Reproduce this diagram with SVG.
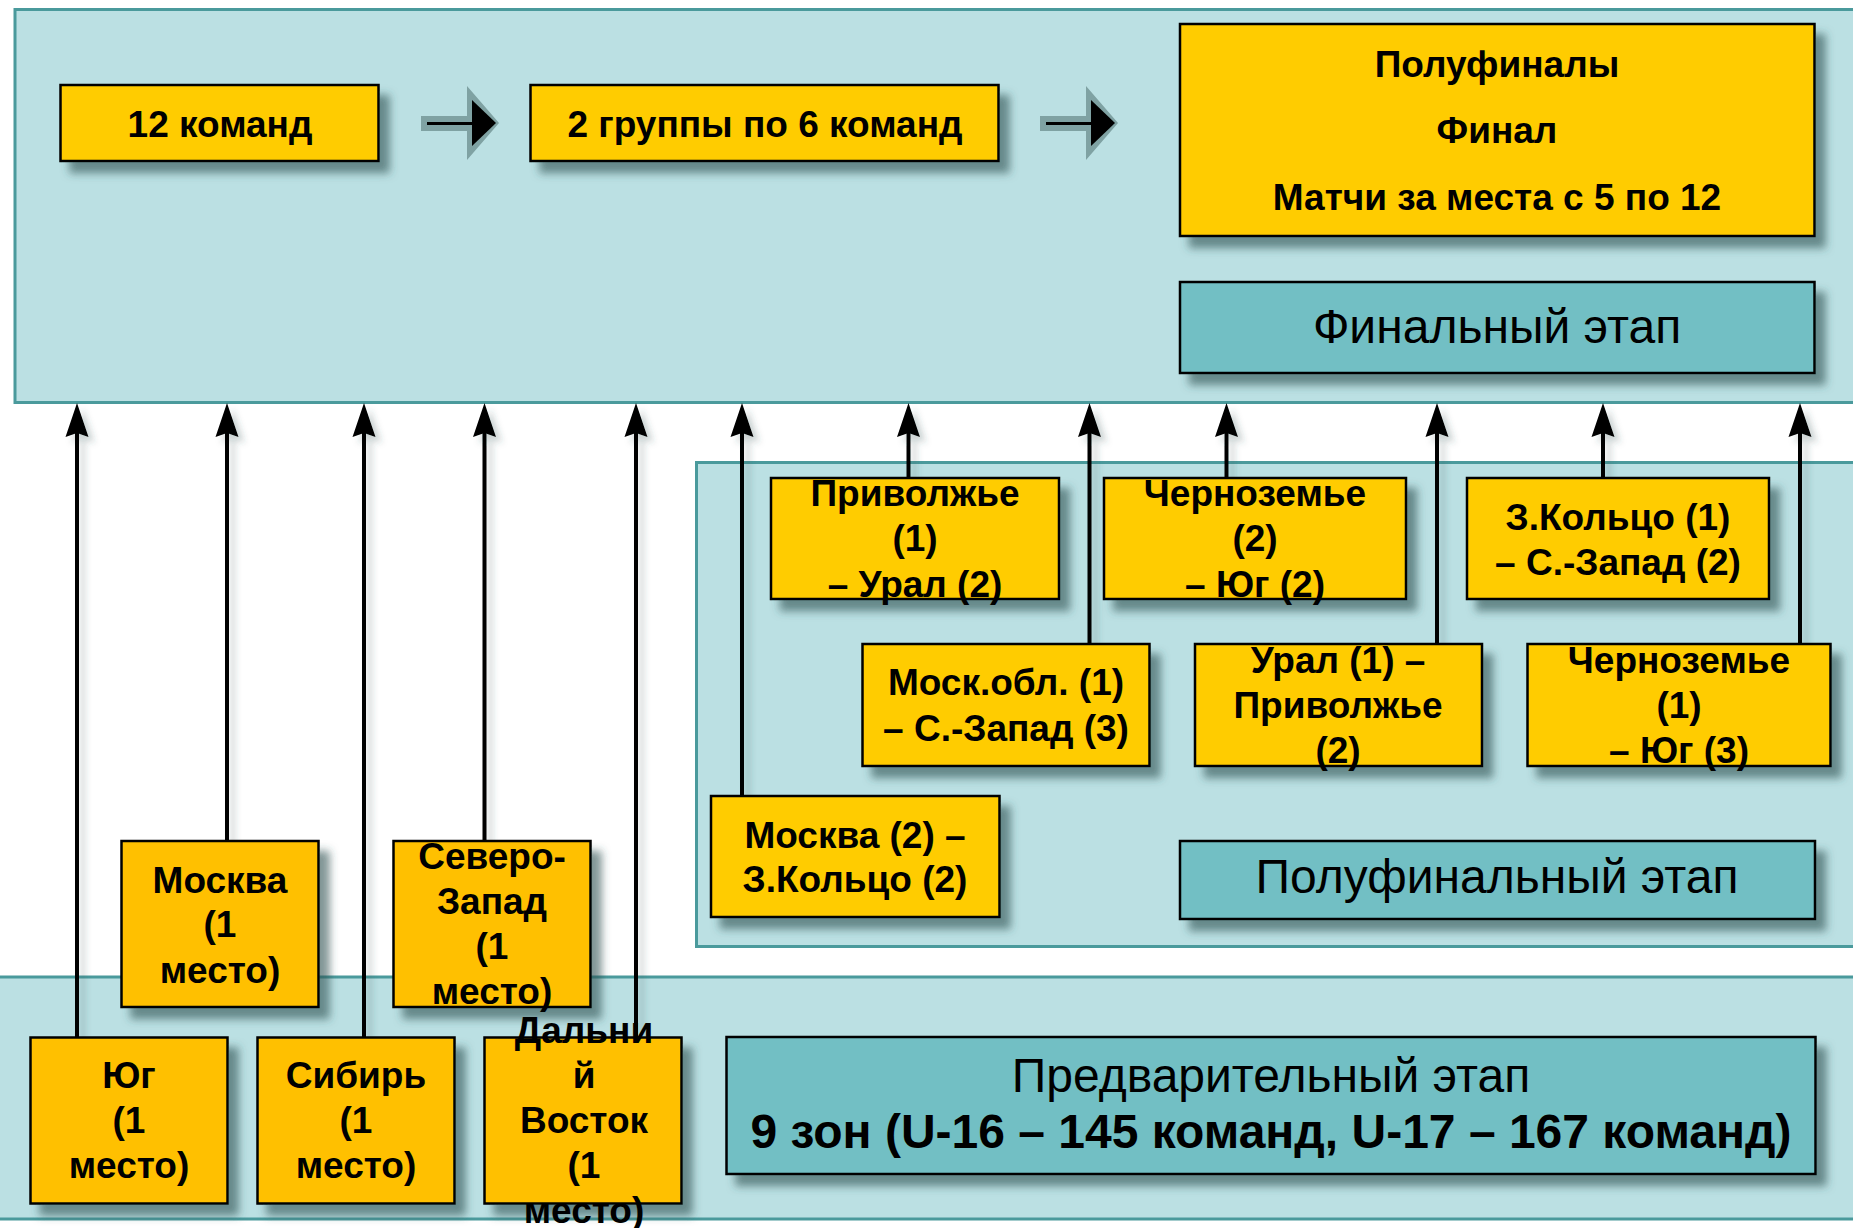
<svg xmlns="http://www.w3.org/2000/svg" width="1853" height="1228" viewBox="0 0 1853 1228">
<defs>
<filter id="sh" x="-10%" y="-10%" width="130%" height="140%">
<feDropShadow dx="10" dy="11" stdDeviation="4" flood-color="#2f4f50" flood-opacity="0.6"/>
</filter>
<filter id="lsh" x="-50%" y="-5%" width="400%" height="110%">
<feDropShadow dx="6" dy="6" stdDeviation="3" flood-color="#2f4f50" flood-opacity="0.25"/>
</filter>
<marker id="ah" markerUnits="userSpaceOnUse" markerWidth="40" markerHeight="30" viewBox="-5 -13 40 26" refX="0" refY="0" orient="auto">
<path d="M30,0 L-4,-11.5 L0,0 L-4,11.5 Z" fill="#000"/>
</marker>
<g id="blockArrow">
<polygon points="421,116 467,116 467,86 499,123 467,160 467,131 421,131" fill="#7fa2a3"/>
<line x1="427" y1="123.5" x2="474" y2="123.5" stroke="#000" stroke-width="3"/>
<polygon points="472,100 496,123 472,146" fill="#000"/>
</g>
</defs>
<style>
.panel{fill:#bbe0e3;stroke:#4a9a9c;stroke-width:3}
.box{fill:#ffcc00;stroke:#000;stroke-width:2.5;filter:url(#sh)}
.boxo{fill:#ffc000;stroke:#000;stroke-width:2.5;filter:url(#sh)}
.stage{fill:#72bfc4;stroke:#000;stroke-width:2.5;filter:url(#sh)}
.t{font-family:"Liberation Sans",Arial,sans-serif;font-weight:700;font-size:37px;fill:#000;text-anchor:middle}
.tr{font-family:"Liberation Sans",Arial,sans-serif;font-weight:400;font-size:48px;fill:#000;text-anchor:middle}
.tb{font-family:"Liberation Sans",Arial,sans-serif;font-weight:700;font-size:48px;fill:#000;text-anchor:middle}
.c line{stroke:#000;stroke-width:4;marker-end:url(#ah)}
</style>
<rect x="0" y="0" width="1853" height="1228" fill="#fff"/>
<g id="panels">
<rect class="panel" x="15" y="9.5" width="1850" height="393"/>
<rect class="panel" x="696.5" y="462.5" width="1170" height="484"/>
<rect class="panel" x="-5" y="977" width="1870" height="242"/>
</g>
<g id="flow-arrows">
<use href="#blockArrow"/>
<use href="#blockArrow" transform="translate(619,0)"/>
</g>
<g id="connectors" class="c" filter="url(#lsh)">
<line x1="77" y1="1037" x2="77" y2="433"/>
<line x1="227" y1="841" x2="227" y2="433"/>
<line x1="364" y1="1037" x2="364" y2="433"/>
<line x1="484.5" y1="841" x2="484.5" y2="433"/>
<line x1="636" y1="1037" x2="636" y2="433"/>
<line x1="742" y1="796" x2="742" y2="433"/>
<line x1="908.5" y1="478" x2="908.5" y2="433"/>
<line x1="1089.5" y1="644" x2="1089.5" y2="433"/>
<line x1="1226.5" y1="478" x2="1226.5" y2="433"/>
<line x1="1437" y1="644" x2="1437" y2="433"/>
<line x1="1603" y1="478" x2="1603" y2="433"/>
<line x1="1800" y1="644" x2="1800" y2="433"/>
</g>
<g id="n-12">
<rect class="box" x="60.5" y="85" width="318" height="76"/>
<text class="t" x="220" y="137">12 команд</text>
</g>
<g id="n-groups">
<rect class="box" x="530.5" y="85" width="468" height="76"/>
<text class="t" x="765" y="137">2 группы по 6 команд</text>
</g>
<g id="n-finals">
<rect class="box" x="1180" y="24" width="634.5" height="212"/>
<text class="t" x="1497" y="77">Полуфиналы</text>
<text class="t" x="1497" y="143">Финал</text>
<text class="t" x="1497" y="210">Матчи за места с 5 по 12</text>
</g>
<g id="n-final-stage">
<rect class="stage" x="1180" y="282" width="634.5" height="91"/>
<text class="tr" x="1497" y="343">Финальный этап</text>
</g>
<g id="n-privolzhye-ural">
<rect class="box" x="771" y="478" width="288" height="121"/>
<text class="t" x="915" y="506">Приволжье</text>
<text class="t" x="915" y="551">(1)</text>
<text class="t" x="915" y="597">– Урал (2)</text>
</g>
<g id="n-chernozem-yug2">
<rect class="box" x="1104" y="478" width="302" height="121"/>
<text class="t" x="1255" y="506">Черноземье</text>
<text class="t" x="1255" y="551">(2)</text>
<text class="t" x="1255" y="597">– Юг (2)</text>
</g>
<g id="n-zkoltso-szapad">
<rect class="box" x="1467" y="478" width="302" height="121"/>
<text class="t" x="1618" y="530">З.Кольцо (1)</text>
<text class="t" x="1618" y="575">– С.-Запад (2)</text>
</g>
<g id="n-moskobl-szapad">
<rect class="box" x="862.5" y="644" width="287" height="122"/>
<text class="t" x="1006" y="695">Моск.обл. (1)</text>
<text class="t" x="1006" y="741">– С.-Запад (3)</text>
</g>
<g id="n-ural-privolzhye">
<rect class="box" x="1195" y="644" width="287" height="122"/>
<text class="t" x="1338" y="673">Урал (1) –</text>
<text class="t" x="1338" y="718">Приволжье</text>
<text class="t" x="1338" y="763">(2)</text>
</g>
<g id="n-chernozem-yug3">
<rect class="box" x="1527.5" y="644" width="303" height="122"/>
<text class="t" x="1679" y="673">Черноземье</text>
<text class="t" x="1679" y="718">(1)</text>
<text class="t" x="1679" y="763">– Юг (3)</text>
</g>
<g id="n-moskva-zkoltso">
<rect class="box" x="711" y="796" width="288.5" height="121"/>
<text class="t" x="855" y="848">Москва (2) –</text>
<text class="t" x="855" y="892">З.Кольцо (2)</text>
</g>
<g id="n-semifinal-stage">
<rect class="stage" x="1180" y="841" width="635" height="78"/>
<text class="tr" x="1497" y="893">Полуфинальный этап</text>
</g>
<g id="n-prelim-stage">
<rect class="stage" x="726.5" y="1037" width="1089" height="137"/>
<text class="tr" x="1271" y="1092">Предварительный этап</text>
<text class="tb" x="1271" y="1148">9 зон (U-16 – 145 команд, U-17 – 167 команд)</text>
</g>
<g id="n-moskva1">
<rect class="boxo" x="121.5" y="841" width="197" height="166"/>
<text class="t" x="220" y="893">Москва</text>
<text class="t" x="220" y="937">(1</text>
<text class="t" x="220" y="983">место)</text>
</g>
<g id="n-severozapad">
<rect class="boxo" x="393.5" y="841" width="197" height="166"/>
<text class="t" x="492" y="869">Северо-</text>
<text class="t" x="492" y="914">Запад</text>
<text class="t" x="492" y="959">(1</text>
<text class="t" x="492" y="1004">место)</text>
</g>
<g id="n-yug">
<rect class="boxo" x="30.5" y="1037.5" width="197" height="166"/>
<text class="t" x="129" y="1088">Юг</text>
<text class="t" x="129" y="1133">(1</text>
<text class="t" x="129" y="1178">место)</text>
</g>
<g id="n-sibir">
<rect class="boxo" x="257.5" y="1037.5" width="197" height="166"/>
<text class="t" x="356" y="1088">Сибирь</text>
<text class="t" x="356" y="1133">(1</text>
<text class="t" x="356" y="1178">место)</text>
</g>
<g id="n-dv">
<rect class="boxo" x="484.5" y="1037.5" width="197" height="166"/>
<text class="t" x="584" y="1043">Дальни</text>
<text class="t" x="584" y="1088">й</text>
<text class="t" x="584" y="1133">Восток</text>
<text class="t" x="584" y="1178">(1</text>
<text class="t" x="584" y="1223">место)</text>
</g>
</svg>
